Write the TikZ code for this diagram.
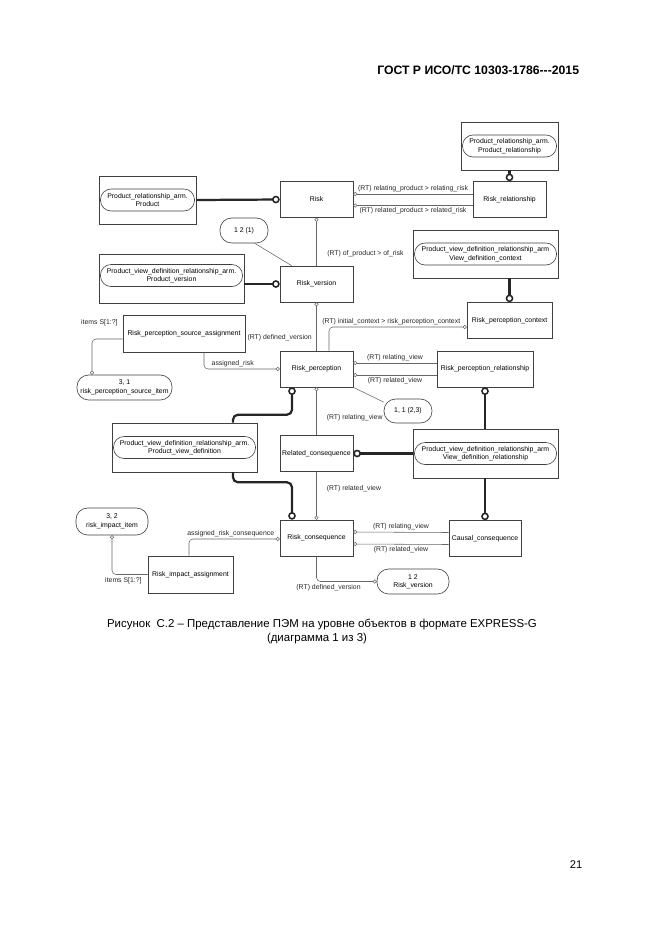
\documentclass[tikz,border=0pt]{standalone}
\usepackage{fontspec}
\setmainfont{Liberation Sans}
\usetikzlibrary{calc,arrows.meta}
\newcommand\dgfont{\fontsize{6.2}{7.6}\selectfont}
\tikzset{
	ent/.style={draw=black!75, line width=0.55pt, rectangle, inner sep=0pt, minimum width=65.7pt, minimum height=32.4pt, font=\dgfont},
	ifbox/.style={draw=black!75, line width=0.55pt, rectangle, inner sep=0pt},
	ifname/.style={draw=black!75, line width=0.55pt, rectangle, rounded corners=9.5pt, inner sep=0.5pt, minimum height=19.8pt, align=center, font=\dgfont},
	note/.style={draw=black!75, line width=0.55pt, rectangle, rounded corners=10.5pt, inner sep=0.5pt, minimum height=22.5pt, align=center, font=\dgfont},
	lnk/.style={draw=black!60, line width=0.5pt, -{Circle[open,length=3.6pt]}, rounded corners=3.6pt},
	sub/.style={draw=black!85, line width=2pt, -{Circle[open,length=6.9pt,line width=1.4pt]}, rounded corners=4.5pt},
	thinl/.style={draw=black!60, line width=0.5pt},
	lbl/.style={font=\dgfont, inner sep=0pt, text=black!85},
}
\begin{document}
\begin{tikzpicture}[x=0.9pt,y=-0.9pt]
	%%%%% START %%%%%
	\useasboundingbox (0,0) rectangle (661,936);
	\node[anchor=east, font=\bfseries\fontsize{11}{13}\selectfont] (head) at (583,70) {ГОСТ Р ИСО/ТС 10303-1786-{}-{}-2015};

	\node[ent] (risk) at (316.5,199.5) {Risk};
	\node[ent] (riskver) at (316.5,284) {Risk\_version};
	\node[ent] (riskper) at (316.5,369) {Risk\_perception};
	\node[ent] (relcon) at (316.5,453.5) {Related\_consequence};
	\node[ent] (riskcon) at (316.5,538) {Risk\_consequence};
	\node[ent] (riskrel) at (509.5,199.5) {Risk\_relationship};
	\node[ent, minimum width=76.5pt] (perctx) at (509.5,320.5) {Risk\_perception\_context};
	\node[ent, minimum width=86.4pt] (perrel) at (485,369) {Risk\_perception\_relationship};
	\node[ent, minimum width=64.8pt] (causal) at (485,538.5) {Causal\_consequence};
	\node[ent, minimum width=109.8pt, minimum height=33.3pt] (srcasg) at (184,333.5) {Risk\_perception\_source\_assignment};
	\node[ent, minimum width=76.5pt, minimum height=33.3pt] (impasg) at (190.5,574.5) {Risk\_impact\_assignment};

	\node[ifbox, minimum width=87.3pt, minimum height=43.2pt] (ifprod) at (147.5,200) {};
	\node[ifname, minimum width=84.6pt] (ifprodn) at (ifprod) {Product\_relationship\_arm.\\Product};
	\node[ifbox, minimum width=130.5pt, minimum height=44.1pt] (ifpver) at (171.5,278.5) {};
	\node[ifname, minimum width=127.8pt] (ifpvern) at (171.5,275.5) {Product\_view\_definition\_relationship\_arm.\\Product\_version};
	\node[ifbox, minimum width=87.3pt, minimum height=43.2pt] (ifprel) at (509.5,146) {};
	\node[ifname, minimum width=84.6pt] (ifpreln) at (ifprel) {Product\_relationship\_arm.\\Product\_relationship};
	\node[ifbox, minimum width=130.5pt, minimum height=43.2pt] (ifvdc) at (485.5,254) {};
	\node[ifname, minimum width=127.8pt] (ifvdcn) at (ifvdc) {Product\_view\_definition\_relationship\_arm\\View\_definition\_context};
	\node[ifbox, minimum width=130.5pt, minimum height=44.1pt] (ifpvd) at (184.5,447.5) {};
	\node[ifname, minimum width=127.8pt] (ifpvdn) at (ifpvd) {Product\_view\_definition\_relationship\_arm.\\Product\_view\_definition};
	\node[ifbox, minimum width=130.5pt, minimum height=44.1pt] (ifvdr) at (485.5,453.5) {};
	\node[ifname, minimum width=127.8pt] (ifvdrn) at (ifvdr) {Product\_view\_definition\_relationship\_arm\\View\_definition\_relationship};

	\node[note, minimum width=43.2pt] (note1) at (244,230.5) {1 2 (1)};
	\node[note, minimum width=85.5pt] (srcitem) at (124.5,387.5) {3, 1\\risk\_perception\_source\_item};
	\node[note, minimum width=43.2pt, minimum height=21.6pt] (note2) at (408,411) {1, 1 (2,3)};
	\node[note, minimum width=64.8pt, minimum height=24.3pt] (impitem) at (112,521.5) {3, 2\\risk\_impact\_item};
	\node[note, minimum width=64.8pt] (rver) at (413,581.5) {1 2\\Risk\_version};

	% thick lines
	\draw[sub] (ifprod.east) -- (risk.west);
	\draw[sub] (ifpver.east |- riskver.west) -- (riskver.west);
	\draw[sub] (ifprel.south) -- (riskrel.north);
	\draw[sub] (ifvdc.south -| perctx.north) -- (perctx.north);
	\draw[sub] (ifvdr.north -| perrel.south) -- (perrel.south);
	\draw[sub] (ifvdr.west |- relcon.east) -- (relcon.east);
	\draw[sub] (ifvdr.south -| causal.north) -- (causal.north);
	\draw[sub] ($(ifpvd.north)+(48.5,0)$) -- ++(0,-8) -| ($(riskper.south)+(-24.5,0)$);
	\draw[sub] ($(ifpvd.south)+(48.5,0)$) -- ++(0,10) -| ($(riskcon.north)+(-24.5,0)$);

	% thin lines
	\draw[lnk] (riskver.north) -- node[lbl, right, pos=0.25, xshift=9.5pt] {(RT) of\_product > of\_risk} (risk.south);
	\draw[lnk] ($(riskrel.west)+(0,-5.5)$) -- node[lbl, above=1.5pt] {(RT) relating\_product > relating\_risk} ($(risk.east)+(0,-5.5)$);
	\draw[lnk] ($(riskrel.west)+(0,6)$) -- node[lbl, below=1.5pt] {(RT) related\_product > related\_risk} ($(risk.east)+(0,6)$);
	\draw[lnk] (riskper.north) -- node[lbl, left, pos=0.27, xshift=-4pt] {(RT) defined\_version} (riskver.south);
	\draw[lnk] ($(riskper.north)+(12.5,0)$) |- node[lbl, above=2pt, pos=0.726] {(RT) initial\_context > risk\_perception\_context} ($(perctx.west)+(0,6.5)$);
	\draw[lnk] ($(srcasg.south)+(20,0)$) |- node[lbl, above=2pt, pos=0.69] {assigned\_risk} (riskper.west);
	\draw[lnk] ($(srcasg.west)+(0,5.5)$) -| node[lbl, pos=0.25, xshift=-7.2pt, yshift=14.4pt] {items S[1:?]} ($(srcitem.north)+(-32.5,0)$);
	\draw[lnk] ($(perrel.west)+(0,-6)$) -- node[lbl, above=2pt] {(RT) relating\_view} ($(riskper.east)+(0,-6)$);
	\draw[lnk] ($(perrel.west)+(0,6)$) -- node[lbl, below=2pt] {(RT) related\_view} ($(riskper.east)+(0,6)$);
	\draw[lnk] (relcon.north) -- node[lbl, right, pos=0.375, xshift=9pt] {(RT) relating\_view} (riskper.south);
	\draw[lnk] (relcon.south) -- node[lbl, right, pos=0.354, xshift=9pt] {(RT) related\_view} (riskcon.north);
	\draw[lnk] ($(causal.west)+(0,-6)$) -- node[lbl, above=2pt] {(RT) relating\_view} ($(riskcon.east)+(0,-6)$);
	\draw[lnk] ($(causal.west)+(0,6)$) -- node[lbl, below=2pt] {(RT) related\_view} ($(riskcon.east)+(0,6)$);
	\draw[lnk] (riskcon.south) |- node[lbl, below=2pt, pos=0.6] {(RT) defined\_version} (rver.west);
	\draw[lnk] ($(impasg.north)+(-1.5,0)$) |- node[lbl, above=2pt, pos=0.73] {assigned\_risk\_consequence} ($(riskcon.west)+(0,1)$);
	\draw[lnk] (impasg.west) -| node[lbl, below=2pt, pos=0.34] {items S[1:?]} (impitem.south);
	\draw[thinl] (note1.-50) -- ($(riskver.north west)+(12,0)$);
	\draw[thinl] (riskper.south east) -- (note2.160);

	\node[font=\fontsize{10.3}{12}\selectfont] (cap1) at (322,624) {Рисунок~ C.2 – Представление ПЭМ на уровне объектов в формате EXPRESS-G};
	\node[font=\fontsize{10.3}{12}\selectfont] (cap2) at (317,639) {(диаграмма 1 из 3)};
	\node[font=\fontsize{10}{12}\selectfont] (pnum) at (576,865) {21};
	%%%%% END %%%%%
\end{tikzpicture}
\end{document}
